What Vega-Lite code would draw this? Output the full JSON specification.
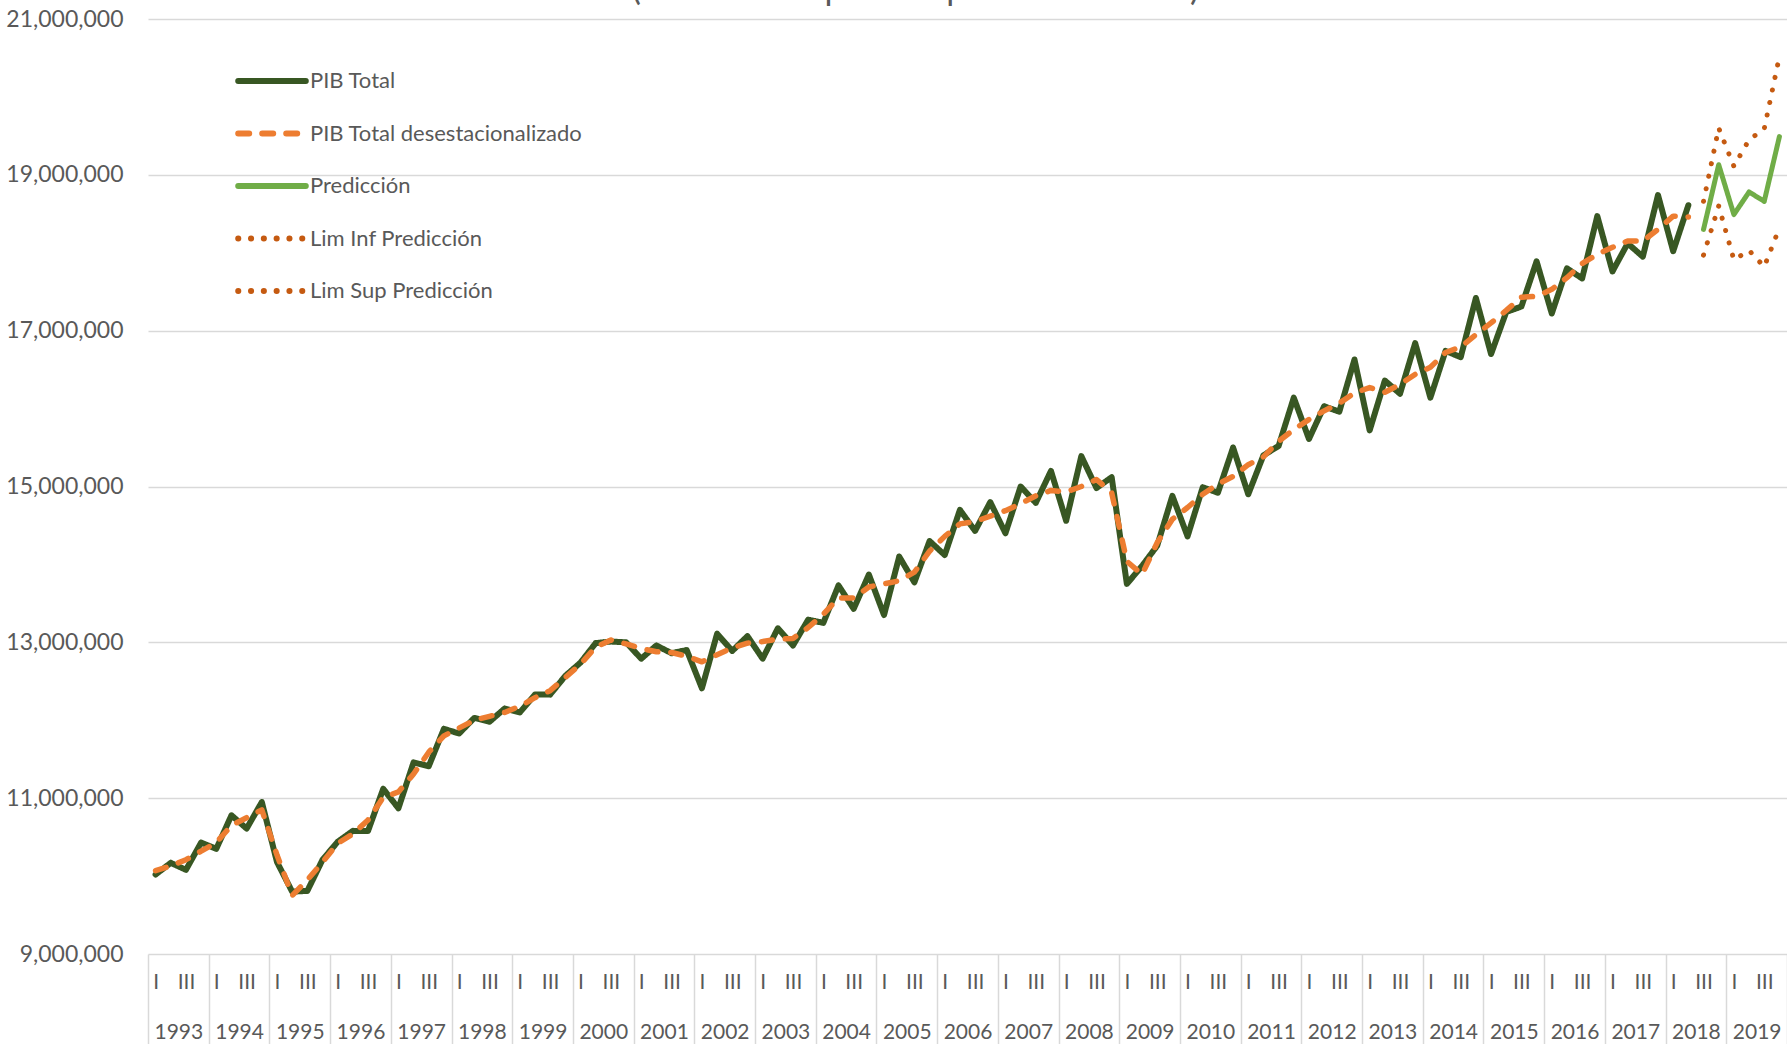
{
  "$schema": "https://vega.github.io/schema/vega-lite/v6.json",
  "width": 1639,
  "height": 935,
  "autosize": {"type": "none"},
  "padding": {"left": 148, "top": 19, "right": 0, "bottom": 90},
  "background": "white",
  "title": {"text": "(Millones de pesos a precios de 2013)", "dx": -52, "offset": 1},
  "data": {"values": [
    {"t":0,"s":"PIB Total","v":10020000},{"t":1,"s":"PIB Total","v":10170000},{"t":2,"s":"PIB Total","v":10080000},{"t":3,"s":"PIB Total","v":10430000},
    {"t":4,"s":"PIB Total","v":10350000},{"t":5,"s":"PIB Total","v":10780000},{"t":6,"s":"PIB Total","v":10610000},{"t":7,"s":"PIB Total","v":10950000},
    {"t":8,"s":"PIB Total","v":10180000},{"t":9,"s":"PIB Total","v":9800000},{"t":10,"s":"PIB Total","v":9810000},{"t":11,"s":"PIB Total","v":10210000},
    {"t":12,"s":"PIB Total","v":10440000},{"t":13,"s":"PIB Total","v":10580000},{"t":14,"s":"PIB Total","v":10580000},{"t":15,"s":"PIB Total","v":11120000},
    {"t":16,"s":"PIB Total","v":10870000},{"t":17,"s":"PIB Total","v":11460000},{"t":18,"s":"PIB Total","v":11410000},{"t":19,"s":"PIB Total","v":11890000},
    {"t":20,"s":"PIB Total","v":11830000},{"t":21,"s":"PIB Total","v":12030000},{"t":22,"s":"PIB Total","v":11980000},{"t":23,"s":"PIB Total","v":12150000},
    {"t":24,"s":"PIB Total","v":12100000},{"t":25,"s":"PIB Total","v":12330000},{"t":26,"s":"PIB Total","v":12330000},{"t":27,"s":"PIB Total","v":12570000},
    {"t":28,"s":"PIB Total","v":12740000},{"t":29,"s":"PIB Total","v":12990000},{"t":30,"s":"PIB Total","v":13010000},{"t":31,"s":"PIB Total","v":13000000},
    {"t":32,"s":"PIB Total","v":12790000},{"t":33,"s":"PIB Total","v":12960000},{"t":34,"s":"PIB Total","v":12860000},{"t":35,"s":"PIB Total","v":12900000},
    {"t":36,"s":"PIB Total","v":12410000},{"t":37,"s":"PIB Total","v":13110000},{"t":38,"s":"PIB Total","v":12890000},{"t":39,"s":"PIB Total","v":13080000},
    {"t":40,"s":"PIB Total","v":12790000},{"t":41,"s":"PIB Total","v":13180000},{"t":42,"s":"PIB Total","v":12960000},{"t":43,"s":"PIB Total","v":13290000},
    {"t":44,"s":"PIB Total","v":13250000},{"t":45,"s":"PIB Total","v":13730000},{"t":46,"s":"PIB Total","v":13430000},{"t":47,"s":"PIB Total","v":13870000},
    {"t":48,"s":"PIB Total","v":13350000},{"t":49,"s":"PIB Total","v":14100000},{"t":50,"s":"PIB Total","v":13770000},{"t":51,"s":"PIB Total","v":14300000},
    {"t":52,"s":"PIB Total","v":14120000},{"t":53,"s":"PIB Total","v":14700000},{"t":54,"s":"PIB Total","v":14430000},{"t":55,"s":"PIB Total","v":14800000},
    {"t":56,"s":"PIB Total","v":14400000},{"t":57,"s":"PIB Total","v":15000000},{"t":58,"s":"PIB Total","v":14790000},{"t":59,"s":"PIB Total","v":15200000},
    {"t":60,"s":"PIB Total","v":14560000},{"t":61,"s":"PIB Total","v":15390000},{"t":62,"s":"PIB Total","v":14980000},{"t":63,"s":"PIB Total","v":15120000},
    {"t":64,"s":"PIB Total","v":13750000},{"t":65,"s":"PIB Total","v":13980000},{"t":66,"s":"PIB Total","v":14240000},{"t":67,"s":"PIB Total","v":14880000},
    {"t":68,"s":"PIB Total","v":14360000},{"t":69,"s":"PIB Total","v":14990000},{"t":70,"s":"PIB Total","v":14920000},{"t":71,"s":"PIB Total","v":15500000},
    {"t":72,"s":"PIB Total","v":14900000},{"t":73,"s":"PIB Total","v":15400000},{"t":74,"s":"PIB Total","v":15520000},{"t":75,"s":"PIB Total","v":16140000},
    {"t":76,"s":"PIB Total","v":15610000},{"t":77,"s":"PIB Total","v":16030000},{"t":78,"s":"PIB Total","v":15960000},{"t":79,"s":"PIB Total","v":16630000},
    {"t":80,"s":"PIB Total","v":15720000},{"t":81,"s":"PIB Total","v":16360000},{"t":82,"s":"PIB Total","v":16190000},{"t":83,"s":"PIB Total","v":16840000},
    {"t":84,"s":"PIB Total","v":16140000},{"t":85,"s":"PIB Total","v":16740000},{"t":86,"s":"PIB Total","v":16660000},{"t":87,"s":"PIB Total","v":17420000},
    {"t":88,"s":"PIB Total","v":16700000},{"t":89,"s":"PIB Total","v":17240000},{"t":90,"s":"PIB Total","v":17310000},{"t":91,"s":"PIB Total","v":17890000},
    {"t":92,"s":"PIB Total","v":17220000},{"t":93,"s":"PIB Total","v":17800000},{"t":94,"s":"PIB Total","v":17670000},{"t":95,"s":"PIB Total","v":18470000},
    {"t":96,"s":"PIB Total","v":17760000},{"t":97,"s":"PIB Total","v":18120000},{"t":98,"s":"PIB Total","v":17950000},{"t":99,"s":"PIB Total","v":18740000},
    {"t":100,"s":"PIB Total","v":18020000},{"t":101,"s":"PIB Total","v":18610000},
    {"t":0,"s":"PIB Total desestacionalizado","v":10070000},{"t":1,"s":"PIB Total desestacionalizado","v":10130000},{"t":2,"s":"PIB Total desestacionalizado","v":10210000},{"t":3,"s":"PIB Total desestacionalizado","v":10320000},
    {"t":4,"s":"PIB Total desestacionalizado","v":10430000},{"t":5,"s":"PIB Total desestacionalizado","v":10650000},{"t":6,"s":"PIB Total desestacionalizado","v":10750000},{"t":7,"s":"PIB Total desestacionalizado","v":10850000},
    {"t":8,"s":"PIB Total desestacionalizado","v":10270000},{"t":9,"s":"PIB Total desestacionalizado","v":9750000},{"t":10,"s":"PIB Total desestacionalizado","v":9950000},{"t":11,"s":"PIB Total desestacionalizado","v":10180000},
    {"t":12,"s":"PIB Total desestacionalizado","v":10420000},{"t":13,"s":"PIB Total desestacionalizado","v":10540000},{"t":14,"s":"PIB Total desestacionalizado","v":10720000},{"t":15,"s":"PIB Total desestacionalizado","v":11010000},
    {"t":16,"s":"PIB Total desestacionalizado","v":11080000},{"t":17,"s":"PIB Total desestacionalizado","v":11310000},{"t":18,"s":"PIB Total desestacionalizado","v":11590000},{"t":19,"s":"PIB Total desestacionalizado","v":11800000},
    {"t":20,"s":"PIB Total desestacionalizado","v":11900000},{"t":21,"s":"PIB Total desestacionalizado","v":12000000},{"t":22,"s":"PIB Total desestacionalizado","v":12050000},{"t":23,"s":"PIB Total desestacionalizado","v":12100000},
    {"t":24,"s":"PIB Total desestacionalizado","v":12180000},{"t":25,"s":"PIB Total desestacionalizado","v":12290000},{"t":26,"s":"PIB Total desestacionalizado","v":12380000},{"t":27,"s":"PIB Total desestacionalizado","v":12550000},
    {"t":28,"s":"PIB Total desestacionalizado","v":12720000},{"t":29,"s":"PIB Total desestacionalizado","v":12940000},{"t":30,"s":"PIB Total desestacionalizado","v":13030000},{"t":31,"s":"PIB Total desestacionalizado","v":12980000},
    {"t":32,"s":"PIB Total desestacionalizado","v":12920000},{"t":33,"s":"PIB Total desestacionalizado","v":12880000},{"t":34,"s":"PIB Total desestacionalizado","v":12870000},{"t":35,"s":"PIB Total desestacionalizado","v":12820000},
    {"t":36,"s":"PIB Total desestacionalizado","v":12750000},{"t":37,"s":"PIB Total desestacionalizado","v":12840000},{"t":38,"s":"PIB Total desestacionalizado","v":12930000},{"t":39,"s":"PIB Total desestacionalizado","v":12990000},
    {"t":40,"s":"PIB Total desestacionalizado","v":13010000},{"t":41,"s":"PIB Total desestacionalizado","v":13040000},{"t":42,"s":"PIB Total desestacionalizado","v":13050000},{"t":43,"s":"PIB Total desestacionalizado","v":13190000},
    {"t":44,"s":"PIB Total desestacionalizado","v":13360000},{"t":45,"s":"PIB Total desestacionalizado","v":13570000},{"t":46,"s":"PIB Total desestacionalizado","v":13570000},{"t":47,"s":"PIB Total desestacionalizado","v":13710000},
    {"t":48,"s":"PIB Total desestacionalizado","v":13750000},{"t":49,"s":"PIB Total desestacionalizado","v":13790000},{"t":50,"s":"PIB Total desestacionalizado","v":13900000},{"t":51,"s":"PIB Total desestacionalizado","v":14170000},
    {"t":52,"s":"PIB Total desestacionalizado","v":14360000},{"t":53,"s":"PIB Total desestacionalizado","v":14520000},{"t":54,"s":"PIB Total desestacionalizado","v":14550000},{"t":55,"s":"PIB Total desestacionalizado","v":14620000},
    {"t":56,"s":"PIB Total desestacionalizado","v":14690000},{"t":57,"s":"PIB Total desestacionalizado","v":14780000},{"t":58,"s":"PIB Total desestacionalizado","v":14880000},{"t":59,"s":"PIB Total desestacionalizado","v":14950000},
    {"t":60,"s":"PIB Total desestacionalizado","v":14930000},{"t":61,"s":"PIB Total desestacionalizado","v":15000000},{"t":62,"s":"PIB Total desestacionalizado","v":15090000},{"t":63,"s":"PIB Total desestacionalizado","v":14920000},
    {"t":64,"s":"PIB Total desestacionalizado","v":14040000},{"t":65,"s":"PIB Total desestacionalizado","v":13870000},{"t":66,"s":"PIB Total desestacionalizado","v":14280000},{"t":67,"s":"PIB Total desestacionalizado","v":14580000},
    {"t":68,"s":"PIB Total desestacionalizado","v":14730000},{"t":69,"s":"PIB Total desestacionalizado","v":14900000},{"t":70,"s":"PIB Total desestacionalizado","v":15030000},{"t":71,"s":"PIB Total desestacionalizado","v":15130000},
    {"t":72,"s":"PIB Total desestacionalizado","v":15280000},{"t":73,"s":"PIB Total desestacionalizado","v":15380000},{"t":74,"s":"PIB Total desestacionalizado","v":15580000},{"t":75,"s":"PIB Total desestacionalizado","v":15730000},
    {"t":76,"s":"PIB Total desestacionalizado","v":15860000},{"t":77,"s":"PIB Total desestacionalizado","v":15970000},{"t":78,"s":"PIB Total desestacionalizado","v":16070000},{"t":79,"s":"PIB Total desestacionalizado","v":16200000},
    {"t":80,"s":"PIB Total desestacionalizado","v":16270000},{"t":81,"s":"PIB Total desestacionalizado","v":16210000},{"t":82,"s":"PIB Total desestacionalizado","v":16310000},{"t":83,"s":"PIB Total desestacionalizado","v":16440000},
    {"t":84,"s":"PIB Total desestacionalizado","v":16530000},{"t":85,"s":"PIB Total desestacionalizado","v":16720000},{"t":86,"s":"PIB Total desestacionalizado","v":16790000},{"t":87,"s":"PIB Total desestacionalizado","v":16950000},
    {"t":88,"s":"PIB Total desestacionalizado","v":17100000},{"t":89,"s":"PIB Total desestacionalizado","v":17260000},{"t":90,"s":"PIB Total desestacionalizado","v":17430000},{"t":91,"s":"PIB Total desestacionalizado","v":17440000},
    {"t":92,"s":"PIB Total desestacionalizado","v":17530000},{"t":93,"s":"PIB Total desestacionalizado","v":17680000},{"t":94,"s":"PIB Total desestacionalizado","v":17860000},{"t":95,"s":"PIB Total desestacionalizado","v":17980000},
    {"t":96,"s":"PIB Total desestacionalizado","v":18070000},{"t":97,"s":"PIB Total desestacionalizado","v":18150000},{"t":98,"s":"PIB Total desestacionalizado","v":18150000},{"t":99,"s":"PIB Total desestacionalizado","v":18300000},
    {"t":100,"s":"PIB Total desestacionalizado","v":18470000},{"t":101,"s":"PIB Total desestacionalizado","v":18460000},
    {"t":102,"s":"Predicción","v":18300000},{"t":103,"s":"Predicción","v":19130000},{"t":104,"s":"Predicción","v":18490000},{"t":105,"s":"Predicción","v":18780000},{"t":106,"s":"Predicción","v":18660000},{"t":107,"s":"Predicción","v":19490000},
    {"t":102,"s":"Lim Inf Predicción","v":17970000},{"t":103,"s":"Lim Inf Predicción","v":18600000},{"t":104,"s":"Lim Inf Predicción","v":17910000},{"t":105,"s":"Lim Inf Predicción","v":18030000},{"t":106,"s":"Lim Inf Predicción","v":17820000},{"t":107,"s":"Lim Inf Predicción","v":18320000},
    {"t":102,"s":"Lim Sup Predicción","v":18660000},{"t":103,"s":"Lim Sup Predicción","v":19600000},{"t":104,"s":"Lim Sup Predicción","v":19110000},{"t":105,"s":"Lim Sup Predicción","v":19450000},{"t":106,"s":"Lim Sup Predicción","v":19590000},{"t":107,"s":"Lim Sup Predicción","v":20520000}
  ]},
  "encoding": {
    "y": {
      "field": "v", "type": "quantitative",
      "scale": {"domain": [9000000, 21000000], "nice": false, "zero": false},
      "axis": {"values": [9000000, 11000000, 13000000, 15000000, 17000000, 19000000, 21000000], "format": ",.0f", "title": null}
    },
    "color": {
      "field": "s", "type": "nominal",
      "scale": {
        "domain": ["PIB Total", "PIB Total desestacionalizado", "Predicción", "Lim Inf Predicción", "Lim Sup Predicción"],
        "range": ["#385723", "#ed7d31", "#70ad47", "#c55a11", "#c55a11"]
      },
      "legend": {"title": null, "encode": {"symbols": {"update": {"strokeCap": {"value": "round"}}}}}
    },
    "strokeDash": {
      "field": "s", "type": "nominal",
      "scale": {
        "domain": ["PIB Total", "PIB Total desestacionalizado", "Predicción", "Lim Inf Predicción", "Lim Sup Predicción"],
        "range": [[1, 0], [11, 13], [1, 0], [0.1, 12.7], [0.1, 12.7]]
      },
      "legend": {"title": null, "encode": {"symbols": {"update": {"strokeCap": {"value": "round"}}}}}
    }
  },
  "layer": [
    {
      "transform": [{"filter": "datum.s === 'PIB Total'"}],
      "mark": {"type": "line", "strokeWidth": 6, "strokeCap": "round", "strokeJoin": "round"},
      "encoding": {
        "x": {
          "field": "t", "type": "quantitative",
          "scale": {"domain": [-0.5, 107.5], "nice": false, "zero": false},
          "axis": {
            "orient": "bottom", "title": null, "grid": false, "domain": false, "ticks": false, "tickSize": 0,
            "values": [0,2,4,6,8,10,12,14,16,18,20,22,24,26,28,30,32,34,36,38,40,42,44,46,48,50,52,54,56,58,60,62,64,66,68,70,72,74,76,78,80,82,84,86,88,90,92,94,96,98,100,102,104,106],
            "labelExpr": "datum.value % 4 == 0 ? 'I' : 'III'",
            "labelBaseline": "middle", "labelPadding": 28
          }
        }
      }
    },
    {
      "transform": [{"filter": "datum.s === 'PIB Total desestacionalizado'"}],
      "mark": {"type": "line", "strokeWidth": 5.5, "strokeCap": "round", "strokeJoin": "round"},
      "encoding": {
        "x": {
          "field": "t", "type": "quantitative",
          "scale": {"domain": [-0.5, 107.5], "nice": false, "zero": false},
          "axis": {
            "orient": "bottom", "title": null, "grid": false, "domain": false, "ticks": false, "tickSize": 0,
            "values": [1.5,5.5,9.5,13.5,17.5,21.5,25.5,29.5,33.5,37.5,41.5,45.5,49.5,53.5,57.5,61.5,65.5,69.5,73.5,77.5,81.5,85.5,89.5,93.5,97.5,101.5,105.5],
            "labelExpr": "'' + (1993 + floor(datum.value / 4))",
            "labelBaseline": "middle", "labelPadding": 78
          }
        }
      }
    },
    {
      "transform": [{"filter": "indexof(['Predicción', 'Lim Inf Predicción', 'Lim Sup Predicción'], datum.s) >= 0"}],
      "mark": {"type": "line", "strokeWidth": 5, "strokeCap": "round", "strokeJoin": "round"},
      "encoding": {
        "x": {
          "field": "t", "type": "quantitative",
          "scale": {"domain": [-0.5, 107.5], "nice": false, "zero": false},
          "axis": {
            "orient": "bottom", "title": null, "grid": false, "domain": false, "labels": false,
            "ticks": true, "tickSize": 90, "tickColor": "#d9d9d9", "tickWidth": 1.5,
            "values": [-0.5,3.5,7.5,11.5,15.5,19.5,23.5,27.5,31.5,35.5,39.5,43.5,47.5,51.5,55.5,59.5,63.5,67.5,71.5,75.5,79.5,83.5,87.5,91.5,95.5,99.5,103.5,107.5]
          }
        }
      }
    }
  ],
  "resolve": {"axis": {"x": "independent"}},
  "config": {
    "font": "Lato",
    "view": {"stroke": null},
    "title": {"font": "Lato", "fontSize": 34.5, "fontWeight": "normal", "color": "#595959", "baseline": "alphabetic", "anchor": "middle"},
    "axis": {"labelFont": "Lato", "labelFontSize": 21, "labelColor": "#595959", "labelFlush": false, "labelOverlap": false},
    "axisY": {"grid": true, "gridColor": "#d9d9d9", "gridWidth": 1.5, "domain": false, "ticks": false, "labelPadding": 25, "labelBaseline": "middle", "labelFontSize": 23},
    "legend": {
      "orient": "none", "legendX": 95, "legendY": 33, "padding": 0,
      "symbolType": "M-1.3,0L1.3,0", "symbolSize": 2704, "symbolStrokeWidth": 6,
      "labelFont": "Lato", "labelFontSize": 22, "labelColor": "#595959", "labelOffset": 9,
      "rowPadding": 11.5, "labelLimit": 600
    }
  }
}
